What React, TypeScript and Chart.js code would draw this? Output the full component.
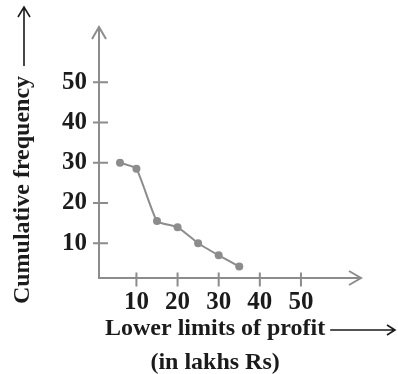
import React, { useEffect, useRef } from "react";
import { Chart, registerables } from "chart.js";

Chart.register(...registerables);

const xValues = [6, 10, 15, 20, 25, 30, 35];
const yValues = [30, 28.5, 15.5, 14, 10, 7, 4.2];
const xTicks = [10, 20, 30, 40, 50];
const yTicks = [10, 20, 30, 40, 50];
const xTitle = "Lower limits of profit";
const xSubTitle = "(in lakhs Rs)";
const yTitle = "Cumulative frequency";

const SERIF = "'Liberation Serif', 'Times New Roman', serif";
const AXIS = "#8c8c8c";
const INK = "#1b1b1b";

const axesPlugin = {
  id: "axesArrows",
  afterDraw(chart: any) {
    const ctx = chart.ctx;
    const { left, right, top, bottom } = chart.chartArea;
    const xs = chart.scales.x;
    const ys = chart.scales.y;
    ctx.save();
    ctx.strokeStyle = AXIS;
    ctx.lineWidth = 2;
    ctx.lineCap = "butt";
    // axes
    ctx.beginPath();
    ctx.moveTo(left, top);
    ctx.lineTo(left, bottom);
    ctx.lineTo(right, bottom);
    ctx.stroke();
    // arrowheads
    ctx.beginPath();
    ctx.moveTo(left - 7, top + 12);
    ctx.lineTo(left, top);
    ctx.lineTo(left + 7, top + 12);
    ctx.moveTo(right - 12, bottom - 7);
    ctx.lineTo(right, bottom);
    ctx.lineTo(right - 12, bottom + 7);
    ctx.stroke();
    // tick crosses
    ctx.beginPath();
    xTicks.forEach((v) => {
      const px = xs.getPixelForValue(v);
      ctx.moveTo(px, bottom - 5.5);
      ctx.lineTo(px, bottom + 8.5);
    });
    yTicks.forEach((v) => {
      const py = ys.getPixelForValue(v);
      ctx.moveTo(left - 6, py);
      ctx.lineTo(left + 9, py);
    });
    ctx.stroke();

    // titles
    ctx.fillStyle = INK;
    ctx.strokeStyle = INK;
    ctx.font = `bold 24px ${SERIF}`;
    ctx.textBaseline = "alphabetic";
    ctx.textAlign = "left";
    ctx.fillText(xTitle, 105, 335);
    const w = ctx.measureText(xTitle).width;
    const a0 = 105 + w + 5;
    ctx.lineWidth = 1.6;
    ctx.beginPath();
    ctx.moveTo(a0, 330);
    ctx.lineTo(395, 330);
    ctx.moveTo(387, 325);
    ctx.lineTo(395, 330);
    ctx.lineTo(387, 335);
    ctx.stroke();
    ctx.textAlign = "center";
    ctx.fillText(xSubTitle, 105 + w / 2, 369);

    // y title rotated
    ctx.save();
    ctx.translate(29, 190);
    ctx.rotate(-Math.PI / 2);
    ctx.textAlign = "center";
    ctx.fillText(yTitle, 0, 0);
    ctx.restore();
    ctx.lineWidth = 1.6;
    ctx.beginPath();
    ctx.moveTo(24, 66);
    ctx.lineTo(24, 7);
    ctx.moveTo(18, 17);
    ctx.lineTo(24, 7);
    ctx.lineTo(30, 17);
    ctx.stroke();
    ctx.restore();
  },
};

export default function App() {
  const ref = useRef<HTMLCanvasElement | null>(null);
  useEffect(() => {
    if (!ref.current) return;
    const chart = new Chart(ref.current, {
      type: "line",
      data: {
        datasets: [
          {
            data: xValues.map((x, i) => ({ x, y: yValues[i] })),
            borderColor: AXIS,
            backgroundColor: AXIS,
            borderWidth: 2,
            pointRadius: 4,
            pointBackgroundColor: AXIS,
            pointBorderWidth: 0,
            tension: 0.15,
          },
        ],
      },
      options: {
        responsive: false,
        animation: false,
        layout: { padding: { top: 23, right: 37, left: 0, bottom: 0 } },
        plugins: { legend: { display: false }, tooltip: { enabled: false } },
        scales: {
          x: {
            type: "linear",
            min: 0.9,
            max: 64.6,
            grid: { display: false, drawTicks: false },
            border: { display: false },
            afterBuildTicks: (s: any) => {
              s.ticks = xTicks.map((v) => ({ value: v }));
            },
            afterFit: (s: any) => {
              s.height = 96;
            },
            ticks: {
              padding: 10,
              color: INK,
              maxRotation: 0,
              autoSkip: false,
              font: { family: SERIF, size: 25, weight: "bold" },
            },
          },
          y: {
            type: "linear",
            min: 1.37,
            max: 63.7,
            grid: { display: false, drawTicks: false },
            border: { display: false },
            afterBuildTicks: (s: any) => {
              s.ticks = yTicks.map((v) => ({ value: v }));
            },
            afterFit: (s: any) => {
              s.width = 99;
            },
            ticks: {
              padding: 12,
              color: INK,
              autoSkip: false,
              font: { family: SERIF, size: 25, weight: "bold" },
            },
          },
        },
      },
      plugins: [axesPlugin],
    });
    return () => chart.destroy();
  }, []);
  return (
    <div style={{ position: "absolute", left: 0, top: 0, width: 398, height: 374, background: "#fff" }}>
      <canvas ref={ref} width={398} height={374} />
    </div>
  );
}
